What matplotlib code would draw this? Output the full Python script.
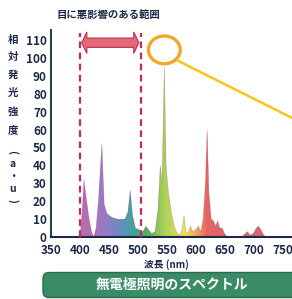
import matplotlib.pyplot as plt
import matplotlib.patches as mpatches
import numpy as np
from matplotlib.colors import LinearSegmentedColormap

plt.rcParams['font.family'] = ['Noto Sans CJK JP', 'DejaVu Sans']

# spectrum (wavelength nm, relative intensity)
wavelength = [350, 398, 401, 404, 407, 410, 415, 420, 424, 428, 432, 438, 442, 447,
              455, 465, 478, 483, 487, 491, 496, 503, 509, 514, 519, 524, 530, 535,
              539, 542, 546, 549, 553, 558, 563, 568, 572, 576, 580, 583, 587, 591,
              595, 600, 605, 609, 613, 617, 620, 623, 627, 631, 635, 638, 642, 646,
              650, 655, 680, 686, 690, 694, 700, 705, 709, 713, 718, 722, 750]
intensity = [0, 0, 3, 15, 32, 24, 12, 3, 0, 5, 20, 52, 18, 13,
             11, 10, 10, 14, 26, 12, 5, 4, 3, 6, 4, 2, 3, 15,
             40, 30, 95, 40, 25, 14, 6, 2, 1, 3, 12, 3, 2, 6,
             3, 4, 6, 3, 10, 30, 60, 25, 10, 9, 6, 9, 5, 5,
             2, 0, 0, 2, 3, 1, 2, 5, 6, 4, 1, 0, 0]

x_ticks = [350, 400, 450, 500, 550, 600, 650, 700, 750]
y_ticks = [0, 10, 20, 30, 40, 50, 60, 70, 80, 90, 100, 110]
harmful_range = [400, 505]

title_text = '目に悪影響のある範囲'
ylabel_chars = ['相', '対', '発', '光', '強', '度', '(', 'a', '・', 'u', ')']
xlabel_text = '波長 (nm)'
caption_text = '無電極照明のスペクトル'

# wavelength -> colour, pastel rainbow
spec_stops = [(350, '#9a4f9e'), (400, '#b0509e'), (440, '#8a62b8'), (470, '#4d78b4'),
              (490, '#20908a'), (515, '#3a9a48'), (546, '#9cc83a'), (580, '#e8dc3a'),
              (600, '#f0a040'), (620, '#e04848'), (700, '#d0485a'), (765, '#c84860')]

navy = '#1c2a48'

fig = plt.figure(figsize=(2.92, 2.99), dpi=100)
ax = fig.add_axes([51 / 292, 62 / 299, 240 / 292, 207 / 299])
ax.set_xlim(350, 765)
ax.set_ylim(0, 115.6)

# gradient image clipped to the spectrum shape
cmap = LinearSegmentedColormap.from_list(
    'spec', [((w - 350) / 415, c) for w, c in spec_stops])
grad = np.linspace(0, 1, 400).reshape(1, -1)
img = ax.imshow(grad, cmap=cmap, extent=[350, 765, 0, 115.6], aspect='auto',
                alpha=0.85, zorder=1)
poly = ax.fill_between(wavelength, intensity, 0, color='none', zorder=1)
clip = mpatches.PathPatch(poly.get_paths()[0], transform=ax.transData,
                          facecolor='none', edgecolor='none')
ax.add_patch(clip)
img.set_clip_path(clip)
ax.plot(wavelength, intensity, color='#7a3050', lw=0.4, alpha=0.35, zorder=2)

# harmful range markers
for w in harmful_range:
    ax.plot([w, w], [0, 114], color='#c82858', lw=1.6, ls=(0, (3, 2)),
            zorder=3, clip_on=False)

# double-headed block arrow
ay, bh, hh, hl = 108.5, 2.6, 6.0, 9
x0, x1 = harmful_range[0] + 3, harmful_range[1] - 3
arrow_pts = [(x0, ay), (x0 + hl, ay + hh), (x0 + hl, ay + bh), (x1 - hl, ay + bh),
             (x1 - hl, ay + hh), (x1, ay), (x1 - hl, ay - hh), (x1 - hl, ay - bh),
             (x0 + hl, ay - bh), (x0 + hl, ay - hh)]
ax.add_patch(mpatches.Polygon(arrow_pts, closed=True, facecolor='#e06a78',
                              edgecolor='#c03048', lw=0.8, zorder=4, clip_on=False))

# highlight circle and pointer line
ax.add_patch(mpatches.Ellipse((546, 104.5), 55, 15.5, facecolor='none',
                              edgecolor='#f5a62a', lw=2.4, zorder=5, clip_on=False))
ax.plot([569, 770], [98.5, 66], color='#f5c51e', lw=1.8, zorder=5, clip_on=False)

ax.set_xticks(x_ticks)
ax.set_yticks(y_ticks)
ax.tick_params(length=0, labelsize=8.5, colors=navy)
ax.tick_params(axis='x', pad=5)
ax.tick_params(axis='y', pad=3)
for lbl in ax.get_xticklabels() + ax.get_yticklabels():
    lbl.set_fontweight('bold')
for s in ['top', 'right']:
    ax.spines[s].set_visible(False)
ax.spines['left'].set_color('#1c4a48')
ax.spines['left'].set_linewidth(1.5)
ax.spines['bottom'].set_color(navy)
ax.spines['bottom'].set_linewidth(1.5)

fig.text(108 / 292, 1 - 15 / 299, title_text, ha='center', va='center',
         fontsize=7.5, fontweight='bold', color=navy)

ys = [40, 57, 75, 93, 112, 130, 152, 164, 177, 189, 201]
for ch, y in zip(ylabel_chars, ys):
    rot = -90 if ch in '()' else 0
    fig.text(13 / 292, 1 - y / 299, ch, ha='center', va='center', fontsize=7.5,
             fontweight='bold', color=navy, rotation=rot)

fig.text(166 / 292, 1 - 265 / 299, xlabel_text, ha='center', va='center',
         fontsize=7, fontweight='bold', color=navy)

box = mpatches.FancyBboxPatch((43 / 292, 0.005), 260 / 292, 25 / 299,
                              boxstyle='round,pad=0,rounding_size=0.02',
                              transform=fig.transFigure, facecolor='#3a8c66',
                              edgecolor='#2a6a4c', lw=1.0, clip_on=False)
fig.patches.append(box)
fig.text(172 / 292, 1 - 285 / 299, caption_text, ha='center', va='center',
         fontsize=10, fontweight='bold', color='white')

fig.savefig('out.png', dpi=100)
